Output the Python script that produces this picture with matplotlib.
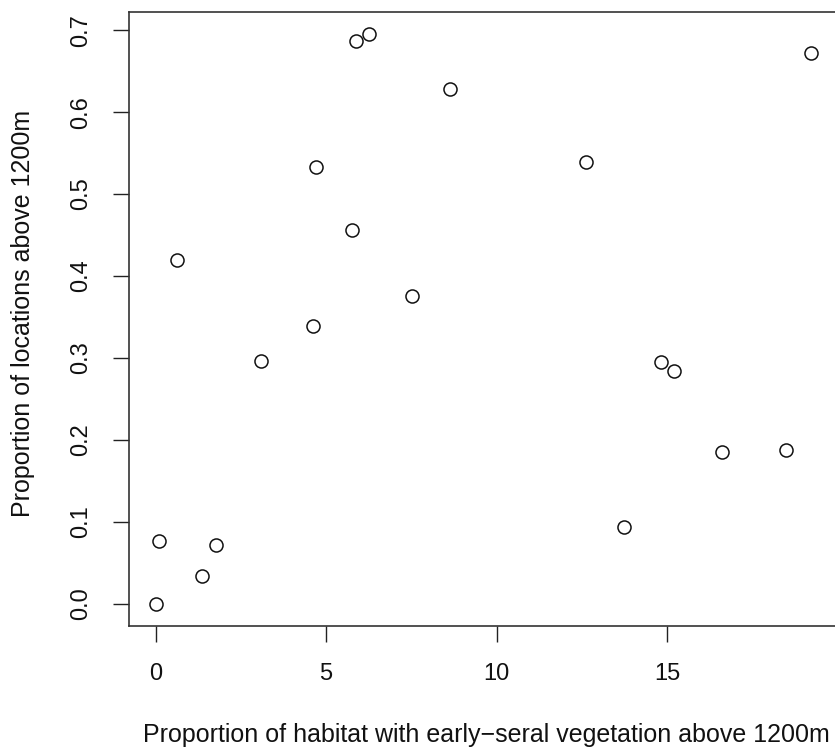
import matplotlib
matplotlib.use("Agg")
import matplotlib.pyplot as plt

# proportion of habitat with early-seral vegetation (x) vs proportion of locations (y)
habitat_pct = [0.0, 0.10, 0.63, 1.35, 1.78, 3.09, 4.62, 4.69, 5.76, 5.88,
               6.26, 7.51, 8.64, 12.63, 13.73, 14.83, 15.21, 16.61, 18.49, 19.20]
locations_prop = [0.0, 0.076, 0.420, 0.034, 0.071, 0.296, 0.339, 0.533, 0.456, 0.687,
                  0.695, 0.375, 0.628, 0.539, 0.094, 0.295, 0.284, 0.185, 0.188, 0.672]
x_ticks = [0, 5, 10, 15]
y_ticks = [0.0, 0.1, 0.2, 0.3, 0.4, 0.5, 0.6, 0.7]

plt.rcParams["font.family"] = ["Liberation Sans", "DejaVu Sans"]
plt.rcParams["font.size"] = 17

fig = plt.figure(figsize=(8.35, 7.48), dpi=100)
ax = fig.add_axes([0.1549, 0.1627, 0.8472, 0.8217])

ax.plot(habitat_pct, locations_prop, linestyle="none", marker="o", markersize=9.4,
        markerfacecolor="none", markeredgecolor="#111111", markeredgewidth=1.1)


def r_range(vals):
    # base-R style axis range: data range padded by 4% each side
    lo, hi = min(vals), max(vals)
    pad = 0.04 * (hi - lo)
    return lo - pad, hi + pad


ax.set_xlim(*r_range(habitat_pct))
ax.set_ylim(*r_range(locations_prop))

ax.set_xticks(x_ticks)
ax.set_xticklabels([str(t) for t in x_ticks])
ax.set_yticks(y_ticks)
ax.set_yticklabels(["{:.1f}".format(t) for t in y_ticks])
ax.tick_params(axis="both", length=11.5, width=1.0, color="#222222", labelcolor="#111111")
ax.tick_params(axis="x", pad=15)
ax.tick_params(axis="y", pad=15)
for lbl in ax.get_yticklabels():
    lbl.set_rotation(90)
    lbl.set_verticalalignment("center")

for side in ax.spines.values():
    side.set_linewidth(1.2)
    side.set_color("#333333")

ax.set_xlabel("Proportion of habitat with early\u2212seral vegetation above 1200m",
              color="#111111", fontsize=18)
ax.set_ylabel("Proportion of locations above 1200m", color="#111111", fontsize=18)
ax.xaxis.label.set_verticalalignment("center")
ax.yaxis.label.set_verticalalignment("center")
ax.xaxis.set_label_coords(0.5045, -0.1769)
ax.yaxis.set_label_coords(-0.1503, 0.5098)

fig.savefig("out.png", dpi=100)
